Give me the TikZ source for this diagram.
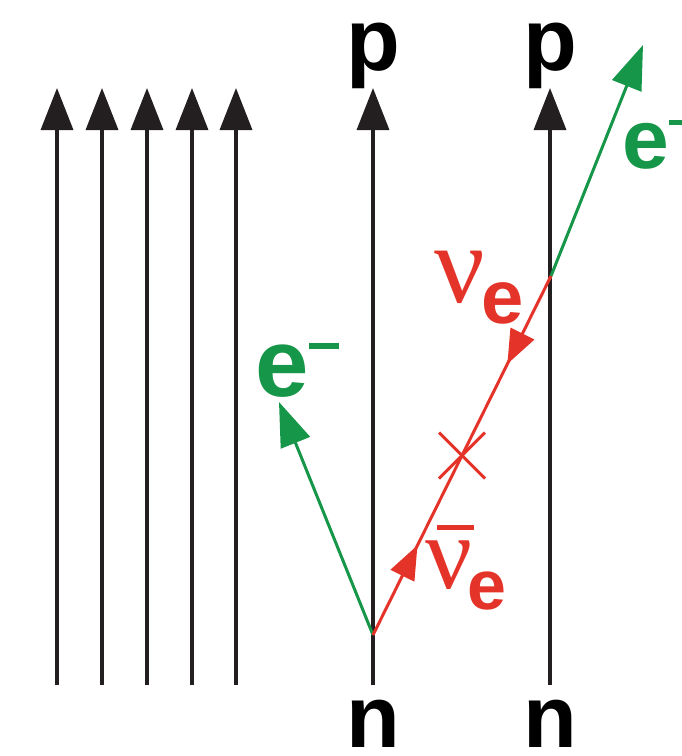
\documentclass[tikz,border=0pt]{standalone}
\usepackage{fontspec}
\setmainfont{Liberation Sans}
\newfontfamily\greekfont{Liberation Serif}
\usetikzlibrary{arrows.meta,decorations.markings}
\definecolor{ink}{RGB}{35,31,32}
\definecolor{egreen}{RGB}{22,150,72}
\definecolor{nured}{RGB}{228,52,42}
\begin{document}
\begin{tikzpicture}[x=1pt,y=-1pt,
  world/.style={draw=ink, line width=3.5pt, -{Triangle[length=42pt,width=32pt]}},
  electron/.style={draw=egreen, line width=3pt, -{Triangle[length=44pt,width=31pt]}},
  neutrino/.style={draw=nured, line width=3pt},
  big/.style={inner sep=0pt, font=\fontsize{88}{88}\selectfont\bfseries},
  lbl/.style={inner sep=0pt, anchor=base west}]
\useasboundingbox (0,0) rectangle (681,756);
% five plain world lines
\foreach \i/\x in {1/57,2/102,3/147,4/192,5/236}{
  \coordinate (b\i) at (\x,685);
  \coordinate (t\i) at (\x,88);
  \draw[world] (b\i) -- (t\i);
}
% nucleon lines
\coordinate (nb1) at (373,685); \coordinate (nt1) at (373,88);
\coordinate (nb2) at (550,685); \coordinate (nt2) at (550,88);
\draw[world] (nb1) -- (nt1);
\draw[world] (nb2) -- (nt2);
\node[big, anchor=base] (p1) at (373,70) {p};
\node[big, anchor=base] (p2) at (550,70) {p};
\node[big, anchor=base] (n1) at (373,747) {n};
\node[big, anchor=base] (n2) at (550,747) {n};
% vertices
\coordinate (v1) at (373,635);
\coordinate (v2) at (551,276);
\coordinate (e1) at (279,402);
\coordinate (e2) at (643,45);
% electrons
\draw[electron] (v1) -- (e1);
\draw[electron] (v2) -- (e2);
% neutrino line
\draw[neutrino, postaction={decorate}, decoration={markings,
   mark=at position 0.25 with {\arrow{Triangle[length=34pt,width=26pt]}},
   mark=at position 0.755 with {\arrowreversed{Triangle[length=34pt,width=26pt]}}}]
   (v1) -- coordinate[pos=0.5] (xc) (v2);
\draw[neutrino] ([shift={(-23,-23)}]xc) -- ([shift={(23,23)}]xc);
\draw[neutrino] ([shift={(-23,23)}]xc) -- ([shift={(23,-23)}]xc);
% labels
\node[lbl, text=egreen, font=\fontsize{96}{96}\selectfont\bfseries] (le1) at (255,396)
  {e\raisebox{47pt}{\rule{30pt}{6pt}}};
\node[lbl, text=egreen, font=\fontsize{84}{84}\selectfont\bfseries] (le2) at (622,168)
  {e\raisebox{43pt}{\rule{26pt}{5pt}}};
\node[lbl, text=nured, font=\fontsize{112}{112}\selectfont\greekfont] (nu1) at (434,302) {ν};
\node[lbl, text=nured, font=\fontsize{76}{76}\selectfont\bfseries] (nue1) at (481,323) {e};
\node[lbl, text=nured, font=\fontsize{104}{104}\selectfont\greekfont] (nu2) at (425,588) {ν};
\node[lbl, text=nured, font=\fontsize{70}{70}\selectfont\bfseries] (nue2) at (467,609) {e};
\coordinate (bar1) at (437,527); \coordinate (bar2) at (474,527);
\draw[nured, line width=5pt] (bar1) -- (bar2);
\end{tikzpicture}
\end{document}
